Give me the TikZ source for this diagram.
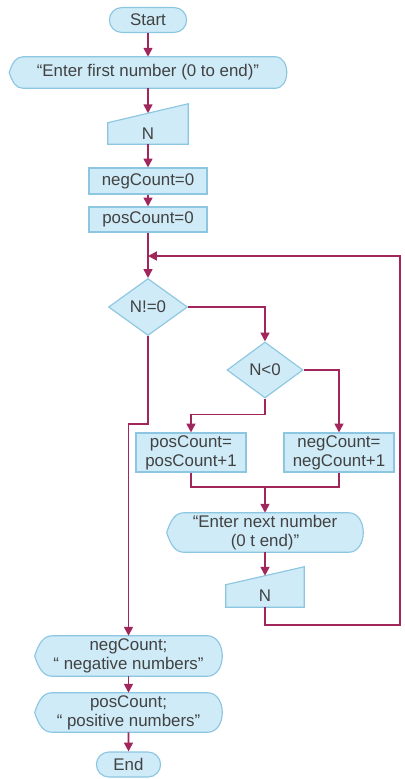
\documentclass[tikz,border=0pt]{standalone}
\usepackage{fontspec}
\setmainfont{Liberation Sans}
\usetikzlibrary{positioning, arrows.meta, calc, shapes.geometric, shapes.misc, backgrounds}

\definecolor{boxblue}{RGB}{206,235,247}
\definecolor{edgeblue}{RGB}{140,198,224}
\definecolor{linered}{RGB}{160,38,92}
\definecolor{inkgray}{RGB}{66,66,66}

\newcommand{\pxu}{0.025cm}
% contorno de pantalla (display): #1 nodo, #2 altura en px
\newcommand{\dispshape}[2]{%
  \path[flow] (#1.west)
    .. controls ($(#1.west)+(0.1*#2,-0.32*#2)$) and ($(#1.north west)+(0.22*#2,0)$) .. ($(#1.north west)+(0.45*#2,0)$)
    -- ($(#1.north east)+(-0.38*#2,0)$)
    .. controls ($(#1.north east)+(0.127*#2,0)$) and ($(#1.south east)+(0.127*#2,0)$) .. ($(#1.south east)+(-0.38*#2,0)$)
    -- ($(#1.south west)+(0.45*#2,0)$)
    .. controls ($(#1.south west)+(0.22*#2,0)$) and ($(#1.west)+(0.1*#2,0.32*#2)$) .. (#1.west) -- cycle;}
% contorno de entrada manual: #1 nodo, #2 subida de la esquina derecha en px
\newcommand{\manshape}[2]{%
  \path[flow] (#1.south west) -- (#1.north west) -- ($(#1.north east)+(0,-#2)$) -- (#1.south east) -- cycle;
  \coordinate (#1 top) at ($(#1.north)+(0,-0.5*#2)$);}

\begin{document}
\begin{tikzpicture}[x=\pxu, y=-\pxu]
		% estilos
		\tikzset{
			flow/.style={draw=edgeblue, fill=boxblue, line width=0.8pt},
			dims/.style 2 args={minimum width=#1*\pxu, minimum height=#2*\pxu},
			txt/.style={text=inkgray, font=\fontsize{12}{13.5}\selectfont, align=center, inner sep=1pt},
			procbox/.style={rectangle, flow, txt},
			termbox/.style={rounded rectangle, flow, txt},
			decisbox/.style={diamond, flow, txt},
			dispbox/.style={rectangle, txt},
			manbox/.style={rectangle, txt},
			line/.style={draw=linered, line width=1.3pt, -{Triangle[length=2.2mm, width=2.2mm]}},
			wire/.style={draw=linered, line width=1.3pt}
		}
		\useasboundingbox (0,0) rectangle (405,779);

		% nodos
		\node[termbox, dims={80}{25}] (start) at (148,20) {Start};
		\node[dispbox, dims={277}{31}] (in1) at (148,72.5) {“Enter first number (0 to end)”};
		\node[manbox, dims={80}{21}] (readN) at (148,133.5) {N};
		\node[procbox, dims={118}{26}] (neg0) at (148,181) {negCount=0};
		\node[procbox, dims={118}{25}] (pos0) at (148,219.5) {posCount=0};
		\coordinate (loop) at (148,256);
		\node[decisbox, dims={79}{57}] (ne0) at (148,307) {N!=0};
		\node[decisbox, dims={76}{56}] (lt0) at (265,370) {N<0};
		\node[procbox, dims={110}{39}] (incPos) at (191,452.5) {posCount=\\posCount+1};
		\node[procbox, dims={110}{39}] (incNeg) at (339,452.5) {negCount=\\negCount+1};
		\coordinate (merge) at (265,487);
		\node[dispbox, dims={196}{39}] (in2) at (265,532.5) {“Enter next number\\(0 t end)”};
		\node[manbox, dims={78}{22}] (readN2) at (265,596) {N};
		\coordinate (rim) at (400,625);
		\node[dispbox, dims={187}{40}] (outNeg) at (128.5,656) {negCount;\\“ negative numbers”};
		\node[dispbox, dims={187}{39}] (outPos) at (128.5,712.5) {posCount;\\“ positive numbers”};
		\node[termbox, dims={67}{25}] (stop) at (128.5,764.5) {End};

		% contornos de pantalla y entrada manual
		\begin{scope}[on background layer]
			\dispshape{in1}{31}
			\dispshape{in2}{39}
			\dispshape{outNeg}{40}
			\dispshape{outPos}{39}
			\manshape{readN}{19}
			\manshape{readN2}{18}
		\end{scope}

		% flechas
		\draw[line] (start) -- (in1);
		\draw[line] (in1) -- (readN top);
		\draw[line] (readN) -- (neg0);
		\draw[line] (neg0) -- (pos0);
		\draw[line] (pos0) -- (ne0);
		\draw[line] (ne0.east) -| (lt0.north);
		\draw[line] (lt0.south) -- ++(0,16) -| (incPos.north);
		\draw[line] (lt0.east) -| (incNeg.north);
		\draw[wire] (incPos.south) |- (merge) -| (incNeg.south);
		\draw[line] (merge) -- (in2);
		\draw[line] (in2) -- (readN2 top);
		\draw[line] (readN2) |- (rim) |- (loop);
		\draw[line] (ne0.south) -- ++(0,88) -| (outNeg.north);
		\draw[line] (outNeg) -- (outPos);
		\draw[line] (outPos) -- (stop);
	\end{tikzpicture}
\end{document}
